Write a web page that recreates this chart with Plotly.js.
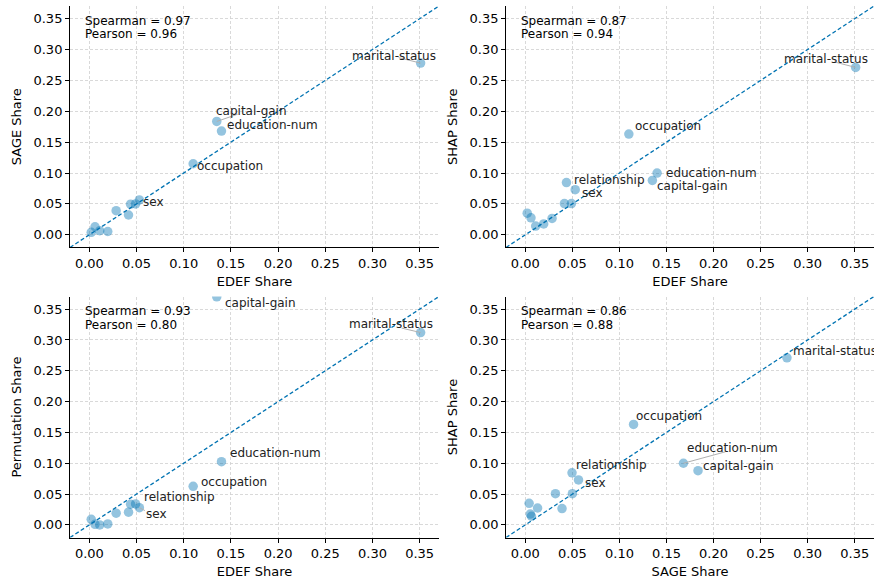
<!DOCTYPE html>
<html>
<head>
<meta charset="utf-8">
<script src="https://cdn.plot.ly/plotly-3.0.1.min.js"></script>
<style>html,body{margin:0;padding:0;background:#fff;}#chart{width:874px;height:583px;}</style>
</head>
<body>
<div id="chart"></div>
<script>
// ---- data ----
const features = ['marital-status','capital-gain','education-num','occupation','sex','relationship',
                  'age','hours-per-week','workclass','capital-loss','race','native-country','education'];
const edef  = [0.351, 0.135, 0.140, 0.110, 0.053, 0.0437, 0.049, 0.0415, 0.0284, 0.0195, 0.011, 0.006, 0.002];
const sage  = [0.278, 0.1835, 0.168, 0.115, 0.0565, 0.0496, 0.050, 0.032, 0.039, 0.0053, 0.0065, 0.013, 0.004];
const shap  = [0.271, 0.088, 0.100, 0.163, 0.073, 0.0845, 0.0506, 0.0506, 0.0264, 0.0175, 0.014, 0.0274, 0.035];
const perm  = [0.312, 0.370, 0.1026, 0.0626, 0.028, 0.0335, 0.034, 0.0206, 0.019, 0.0016, 0.0, 0.001, 0.009];
const spearman = [0.97, 0.87, 0.93, 0.86];
const pearson  = [0.96, 0.94, 0.80, 0.88];
const xTitles = ['EDEF Share','EDEF Share','EDEF Share','SAGE Share'];
const yTitles = ['SAGE Share','SHAP Share','Permutation Share','SHAP Share'];

// ---- layout config ----
const lims = [-0.0205, 0.3705];
const xDom = [[0.0801,0.5023],[0.579,1.0],[0.0801,0.5023],[0.579,1.0]];
const yDom = [[0.5756,0.9897],[0.5756,0.9897],[0.078,0.4914],[0.078,0.4914]];
const pairs = [[edef,sage],[edef,shap],[edef,perm],[sage,shap]];
// label placement (pixels): left = text left edge offset; line = text center offset + connector tail
const labelCfg = [
  [['marital-status','line',-27,-7,-24,-6],['capital-gain','line',35,-10.5,23,-8],
   ['education-num','left',3.5,-6],['occupation','left',2,2],['sex','left',2,2]],
  [['marital-status','line',-29.5,-8,-23,-6],['occupation','left',4,-8],['education-num','left',7,0],
   ['capital-gain','left',3,6],['relationship','left',5.5,-2.7],['sex','left',4.3,3.6]],
  [['capital-gain','left',6.3,6.3],['marital-status','line',-29.5,-8.6,-21,-5],
   ['education-num','left',6.6,-8.7],['occupation','left',6.3,-4.6],['relationship','left',11,-7.6],
   ['sex','line',17.4,6.3,7.5,4]],
  [['marital-status','left',4,-7],['occupation','left',0,-8.7],['education-num','line',49,-15.4,44,-12],
   ['capital-gain','left',3.4,-5],['relationship','left',2.3,-7.6],['sex','left',4.3,3.3]]
];

const FONT = 'DejaVu Sans, Liberation Sans, sans-serif';
const traces = [];
const annotations = [];
const layout = {
  width: 874, height: 583,
  margin: {l:0, r:0, t:0, b:0},
  paper_bgcolor: '#fff', plot_bgcolor: '#fff',
  showlegend: false,
  font: {family: FONT, size: 13, color: '#000'},
  annotations: annotations
};

for (let p = 0; p < 4; p++) {
  const sfx = p === 0 ? '' : String(p + 1);
  const xa = 'x' + sfx, ya = 'y' + sfx;
  const [xs, ys] = pairs[p];
  const axisCommon = {
    range: lims.slice(), autorange: false,
    showline: true, linecolor: '#000', linewidth: 1, mirror: false,
    ticks: 'outside', ticklen: 4, tickwidth: 1, tickcolor: '#000',
    tick0: 0, dtick: 0.05, tickformat: '.2f',
    tickfont: {family: FONT, size: 13, color: '#000'},
    showgrid: true, gridcolor: '#cfcfcf', gridwidth: 0.8, griddash: '3px,2px',
    zeroline: false, fixedrange: true
  };
  layout['xaxis' + sfx] = Object.assign({}, axisCommon, {
    domain: xDom[p], anchor: ya,
    title: {text: xTitles[p], font: {family: FONT, size: 13, color: '#000'}, standoff: 6}
  });
  layout['yaxis' + sfx] = Object.assign({}, axisCommon, {
    domain: yDom[p], anchor: xa,
    title: {text: yTitles[p], font: {family: FONT, size: 13, color: '#000'}, standoff: 8}
  });

  // diagonal reference line (y = x) across the axis range
  traces.push({
    type: 'scatter', mode: 'lines', xaxis: xa, yaxis: ya,
    x: lims.slice(), y: lims.slice(),
    line: {color: '#0173b2', width: 1.3, dash: '4px,2.4px'},
    hoverinfo: 'skip'
  });
  // points
  traces.push({
    type: 'scatter', mode: 'markers', xaxis: xa, yaxis: ya,
    x: xs, y: ys, text: features,
    marker: {size: 9.5, color: 'rgba(1,115,178,0.42)', line: {width: 0}},
    hovertemplate: '%{text}<extra></extra>'
  });

  // correlation text
  annotations.push({
    xref: xa + ' domain', yref: ya + ' domain', x: 0, y: 1,
    xanchor: 'left', yanchor: 'middle', xshift: 13, yshift: -14.7,
    text: 'Spearman = ' + spearman[p].toFixed(2), showarrow: false,
    font: {family: FONT, size: 12, color: '#000'}
  });
  annotations.push({
    xref: xa + ' domain', yref: ya + ' domain', x: 0, y: 1,
    xanchor: 'left', yanchor: 'middle', xshift: 13, yshift: -28,
    text: 'Pearson = ' + pearson[p].toFixed(2), showarrow: false,
    font: {family: FONT, size: 12, color: '#000'}
  });

  // feature labels
  labelCfg[p].forEach(cfg => {
    const [name, mode, dx, dy, tx, ty] = cfg;
    const i = features.indexOf(name);
    if (mode === 'line') {
      annotations.push({
        xref: xa, yref: ya, x: xs[i], y: ys[i],
        showarrow: true, text: ' ', arrowhead: 0, arrowwidth: 1, arrowcolor: '#b0b0b0',
        ax: tx, ay: ty, standoff: 0, startstandoff: 0,
        font: {size: 2}
      });
    }
    annotations.push({
      xref: xa, yref: ya, x: xs[i], y: ys[i],
      showarrow: false, text: name,
      xanchor: mode === 'left' ? 'left' : 'center', yanchor: 'middle',
      xshift: dx, yshift: -dy,
      font: {family: FONT, size: 12, color: '#222'}
    });
  });
}

Plotly.newPlot('chart', traces, layout, {staticPlot: true, displayModeBar: false});
</script>
</body>
</html>
